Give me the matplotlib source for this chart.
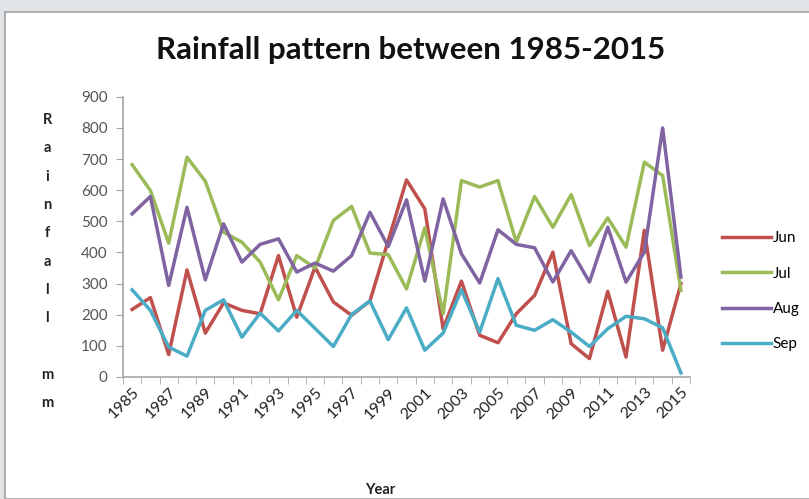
import numpy as np
import matplotlib
matplotlib.use('Agg')
import matplotlib.pyplot as plt
from matplotlib.patches import Rectangle

plt.rcParams['font.family'] = ['Lato', 'DejaVu Sans']

years = list(range(1985, 2016))
jun = [217, 255, 72, 344, 141, 238, 214, 203, 390, 192, 353, 241, 198, 244, 438, 633,
       540, 155, 308, 134, 110, 203, 262, 401, 107, 59, 275, 64, 471, 86, 300]
jul = [682, 599, 430, 706, 629, 465, 433, 369, 248, 390, 350, 503, 548, 398, 393, 283,
       479, 203, 631, 610, 631, 433, 580, 481, 586, 422, 511, 417, 690, 647, 278]
aug = [524, 580, 294, 545, 312, 492, 369, 426, 444, 337, 366, 340, 390, 529, 419, 569,
       308, 572, 396, 302, 473, 426, 415, 305, 406, 305, 481, 305, 401, 800, 321]
sep = [280, 214, 96, 67, 214, 248, 128, 205, 148, 214, 156, 98, 201, 244, 120, 222,
       86, 141, 280, 144, 316, 166, 150, 184, 144, 98, 155, 195, 187, 158, 13]
series = {'Jun': jun, 'Jul': jul, 'Aug': aug, 'Sep': sep}
colors = {'Jun': '#C0504D', 'Jul': '#9BBB59', 'Aug': '#8064A2', 'Sep': '#4BACC6'}

fig = plt.figure(figsize=(8.09, 4.99), dpi=100)
fig.patch.set_facecolor('#e1e4e6')
# white chart panel behind everything
fig.patches.append(Rectangle((5/809, 0), 1.0, 1 - 12/499, transform=fig.transFigure,
                             facecolor='white', edgecolor='#a0a0a0', lw=1.2, zorder=-10))

ax = fig.add_axes([0.152, 0.2445, 0.701, 0.5615])
ax.set_facecolor('none')
x = np.arange(len(years))
for name, vals in series.items():
    ax.plot(x, vals, color=colors[name], lw=2.5, label=name)

ax.set_xlim(-0.5, len(years) - 0.5)
ax.set_ylim(0, 900)
ax.set_yticks(range(0, 901, 100))
ax.set_xticks(x[::2])
ax.set_xticklabels([str(y) for y in years[::2]], rotation=45, ha='right',
                   rotation_mode='anchor', fontsize=11.5, color='#222222')
ax.set_xticks(np.arange(-0.5, len(years), 1), minor=True)
ax.tick_params(axis='x', which='major', length=0, pad=6)
ax.tick_params(axis='x', which='minor', length=5, color='#a6a6a6', direction='out')
ax.tick_params(axis='y', length=5, color='#a6a6a6', labelsize=11, labelcolor='#555555', pad=6)
for s in ['top', 'right']:
    ax.spines[s].set_visible(False)
for s in ['left', 'bottom']:
    ax.spines[s].set_color('#a6a6a6')
    ax.spines[s].set_linewidth(1.2)

fig.text(0.507, 0.9, 'Rainfall pattern between 1985-2015', ha='center', va='center',
         fontsize=22.5, fontweight='bold', color='#111111')
fig.text(0.47, 0.018, 'Year', ha='center', va='center', fontsize=10.5, fontweight='bold',
         color='#222222')

ylab = 'Rainfall mm'
ypos = 120
for ch in ylab:
    if ch != ' ':
        fig.text(47/809, 1 - ypos/499, ch, ha='center', va='center', fontsize=10.5,
                 fontweight='bold', color='#222222')
    ypos += 28.3

fig.legend(loc='center left', bbox_to_anchor=(0.876, 0.416), frameon=False,
           handlelength=3.2, handletextpad=0.1, labelspacing=1.4, fontsize=11)

plt.savefig('out.png', dpi=100)
